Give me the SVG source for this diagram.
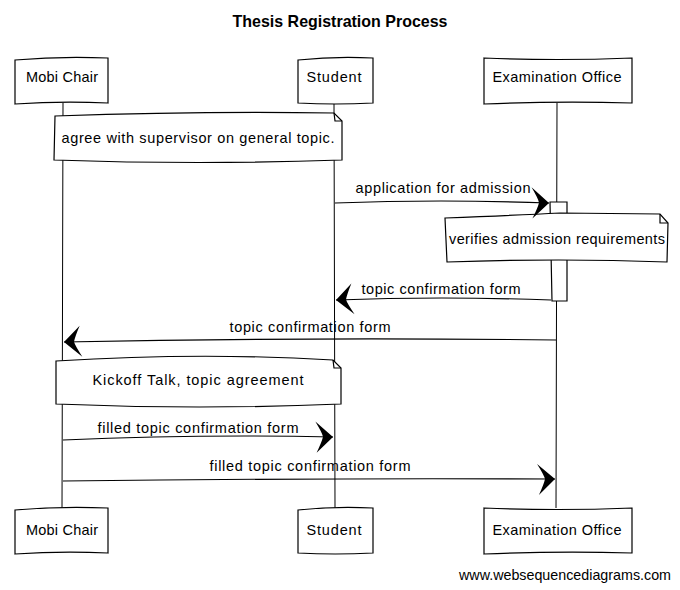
<svg xmlns="http://www.w3.org/2000/svg" width="680" height="590" viewBox="0 0 680 590">
<defs>
<style>
.bx{fill:#fff;stroke:#000;stroke-width:1.2}
.ln{fill:none;stroke:#000;stroke-width:1.2}
.ll{fill:none;stroke:#000;stroke-width:1}
.t{font-family:"Liberation Sans","DejaVu Sans",sans-serif;font-size:14.5px;fill:#000;text-anchor:middle}
.title{font-family:"Liberation Sans","DejaVu Sans",sans-serif;font-size:17px;font-weight:bold;fill:#000;text-anchor:middle}
.wm{font-family:"Liberation Sans",Arial,sans-serif;font-size:14.3px;fill:#000}
</style>
<marker id="ah" markerUnits="userSpaceOnUse" markerWidth="26" markerHeight="34" viewBox="-22 -17 24 34" refX="0" refY="0" orient="auto">
<path d="M0,0 L-18,-15 Q-11,-4 -10,0 Q-11,5 -16,16 Z" fill="#000"/>
</marker>
</defs>
<rect width="680" height="590" fill="#fff"/>
<text class="title" x="340" y="27" textLength="215" lengthAdjust="spacingAndGlyphs">Thesis Registration Process</text>

<g id="lifelines">
<path class="ll" d="M63,103 L62,508"/>
<path class="ll" d="M334,103 L335,508"/>
<path class="ll" d="M557,103 L556,508"/>
</g>

<g id="mobi-top"><path class="bx" d="M15,60 Q60,56 108,58 L108,103 Q60,101 15,104 Z"/><text class="t" x="62" y="82" textLength="72">Mobi Chair</text></g>
<g id="student-top"><path class="bx" d="M298,60 Q335,56 373,58 L373,103 Q335,105 298,103 Z"/><text class="t" x="334" y="82" textLength="55">Student</text></g>
<g id="exam-top"><path class="bx" d="M484,58 Q557,61 632,58 L632,103 Q557,101 484,104 Z"/><text class="t" x="557" y="82" textLength="129">Examination Office</text></g>

<g id="mobi-bottom"><path class="bx" d="M15,510 Q60,506 108,508 L108,553 Q60,551 15,554 Z"/><text class="t" x="62" y="535" textLength="72">Mobi Chair</text></g>
<g id="student-bottom"><path class="bx" d="M298,510 Q335,506 373,508 L373,553 Q335,555 298,553 Z"/><text class="t" x="334" y="535" textLength="55">Student</text></g>
<g id="exam-bottom"><path class="bx" d="M484,508 Q557,511 632,508 L632,553 Q557,551 484,554 Z"/><text class="t" x="557" y="535" textLength="129">Examination Office</text></g>

<g id="activation"><path class="bx" d="M550,202 L567,202 L567,301 L552,301 Z"/></g>

<g id="note-agree">
<path class="bx" d="M55,116 Q200,111 334,113 L342,121 L342,160 Q200,165 54,160 Z"/>
<path class="ln" d="M334,113 L335,121 L342,121"/>
<text class="t" x="198" y="143" textLength="273">agree with supervisor on general topic.</text>
</g>
<g id="note-verify">
<path class="bx" d="M445,218 Q520,215 560,213 L660,214 L668,223 L667,262 Q560,258 447,262 Z"/>
<path class="ln" d="M660,214 L660,223 L668,223"/>
<text class="t" x="557" y="244" textLength="216">verifies admission requirements</text>
</g>
<g id="note-kickoff">
<path class="bx" d="M56,361 Q200,352 333,360 L341,368 L341,404 Q200,410 56,404 Z"/>
<path class="ln" d="M333,360 L334,368 L341,368"/>
<text class="t" x="198" y="385" textLength="211">Kickoff Talk, topic agreement</text>
</g>

<g id="connectors">
<path class="ln" d="M335,203 Q440,199 549,203" marker-end="url(#ah)"/>
<path class="ln" d="M551,300 Q440,296 336,300" marker-end="url(#ah)"/>
<path class="ln" d="M556,340 Q310,337 64,342" marker-end="url(#ah)"/>
<path class="ln" d="M63,440 Q200,434 333,437" marker-end="url(#ah)"/>
<path class="ln" d="M63,481 Q310,478 555,479" marker-end="url(#ah)"/>
</g>
<g id="labels">
<text class="t" x="443" y="193" textLength="175">application for admission</text>
<text class="t" x="441" y="294" textLength="159">topic confirmation form</text>
<text class="t" x="310" y="332" textLength="161">topic confirmation form</text>
<text class="t" x="198" y="433" textLength="201">filled topic confirmation form</text>
<text class="t" x="310" y="471" textLength="201">filled topic confirmation form</text>
</g>
<text class="wm" x="459" y="580" textLength="212">www.websequencediagrams.com</text>
</svg>
